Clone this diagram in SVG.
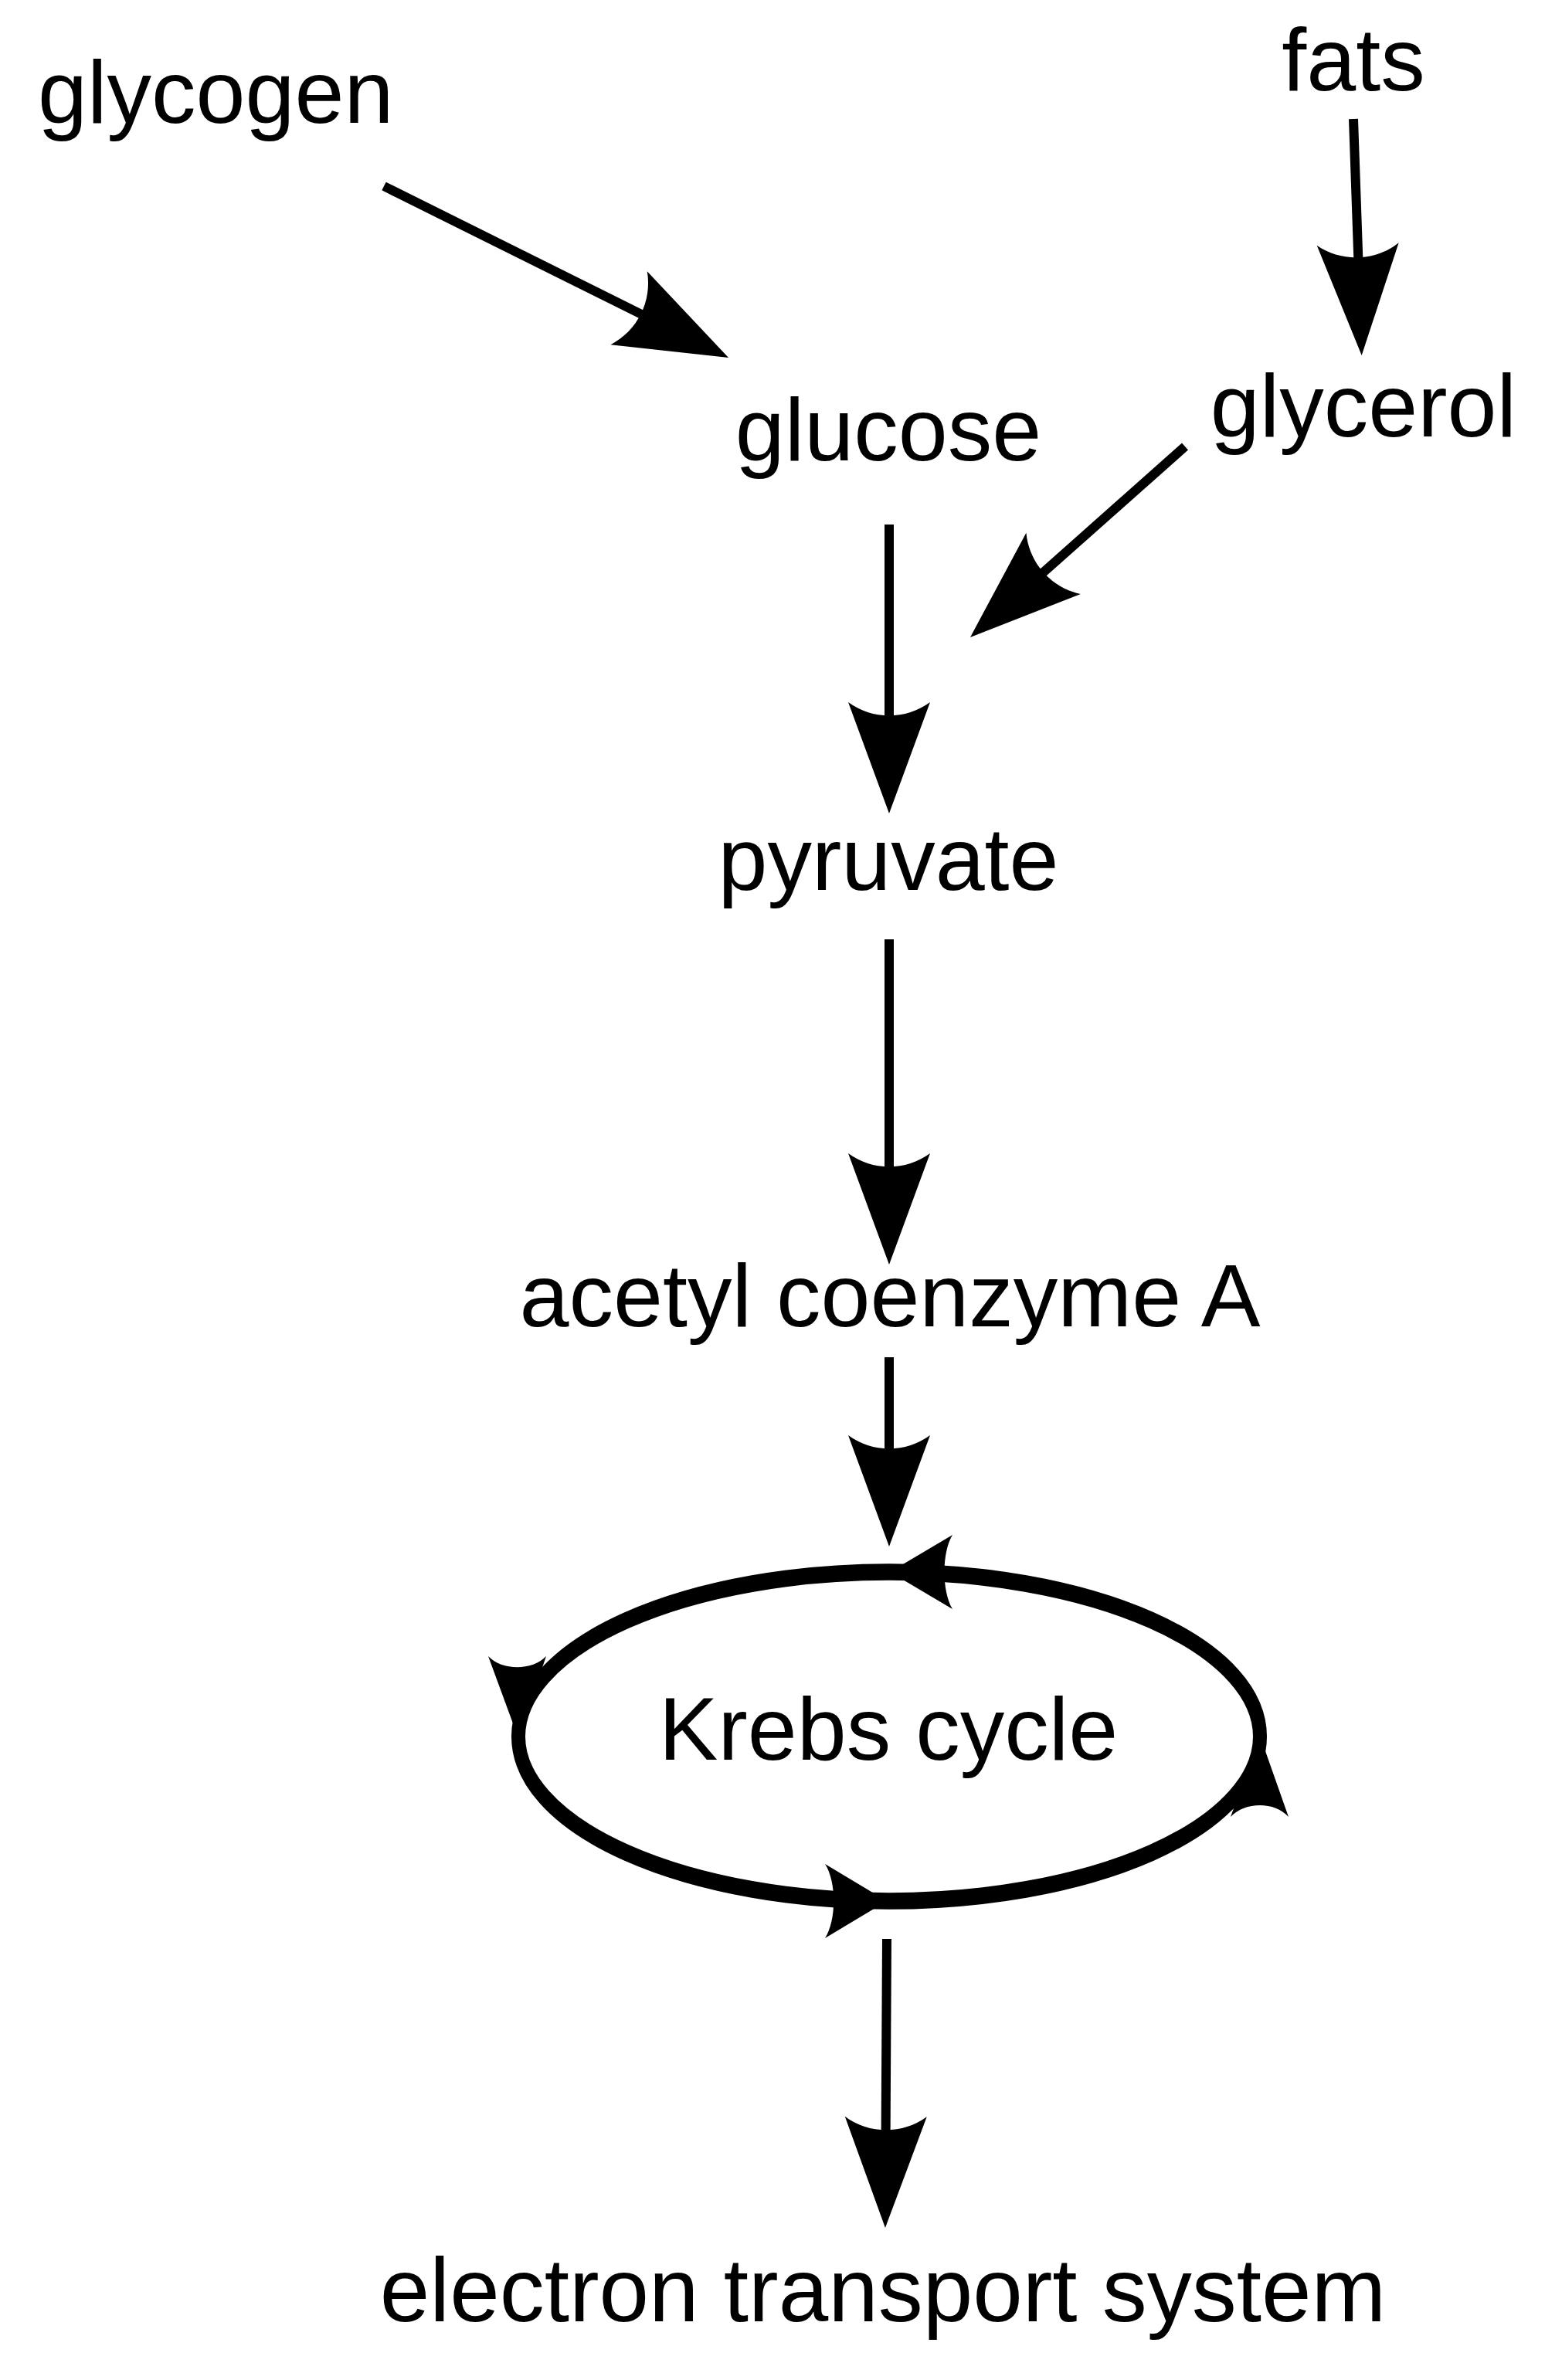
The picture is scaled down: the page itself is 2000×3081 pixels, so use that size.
<svg xmlns="http://www.w3.org/2000/svg" width="2000" height="3081" viewBox="0 0 2000 3081">
<style>
  .label { font-family: "Liberation Sans", Arial, sans-serif; font-size: 115px; fill: #000; }
  .mid { text-anchor: middle; }
  .conn { fill: none; stroke: #000; stroke-width: 12; marker-end: url(#head); }
  .cyclehead { fill: #000; stroke: none; }
</style>
<defs>
  <marker id="head" markerUnits="userSpaceOnUse" orient="auto" refX="0" refY="0" markerWidth="300" markerHeight="300" overflow="visible">
    <path d="M120,0 L-24,-53 C-0.9,-21.7 -0.9,21.7 -24,53 Z" fill="#000"/>
  </marker>
</defs>
<rect width="2000" height="3081" fill="#fff"/>

<g id="node-glycogen"><text class="label" x="49" y="159">glycogen</text></g>
<g id="node-fats"><text class="label mid" x="1752" y="117">fats</text></g>
<g id="node-glucose"><text class="label mid" x="1150" y="596">glucose</text></g>
<g id="node-glycerol"><text class="label mid" x="1765" y="565">glycerol</text></g>
<g id="node-pyruvate"><text class="label mid" x="1150" y="1152">pyruvate</text></g>
<g id="node-acetyl"><text class="label mid" x="1152" y="1717">acetyl coenzyme A</text></g>
<g id="node-krebs">
  <ellipse cx="1151" cy="0" rx="480" ry="177.5" fill="none" stroke="#000" stroke-width="18" transform="translate(0,2248) scale(1,1.2)"/>
  <path class="cyclehead" d="M1152,2035 L1233,1987 C1219,2010 1219,2060 1233,2083 Z"/>
  <path class="cyclehead" d="M671,2250 L632,2144 C650,2163 689,2163 707,2144 Z"/>
  <path class="cyclehead" d="M1148,2461 L1068,2413 C1083,2436 1083,2486 1068,2509 Z"/>
  <path class="cyclehead" d="M1631,2247 L1668,2352 C1650,2332 1612,2332 1593,2352 Z"/>
  <text class="label mid" x="1150" y="2278">Krebs cycle</text>
</g>
<g id="node-ets"><text class="label mid" x="1143" y="3005" style="font-size:116px">electron transport system</text></g>

<g id="connectors">
  <path class="conn" d="M497,241 L835.6,409.5"/>
  <path class="conn" d="M1752,154 L1758.5,340"/>
  <path class="conn" d="M1534,578 L1345.7,745.3"/>
  <path class="conn" d="M1151,679 L1151,933"/>
  <path class="conn" d="M1151,1216 L1151,1517"/>
  <path class="conn" d="M1151,1757 L1151,1882"/>
  <path class="conn" d="M1148,2510 L1146.6,2764"/>
</g>
</svg>
